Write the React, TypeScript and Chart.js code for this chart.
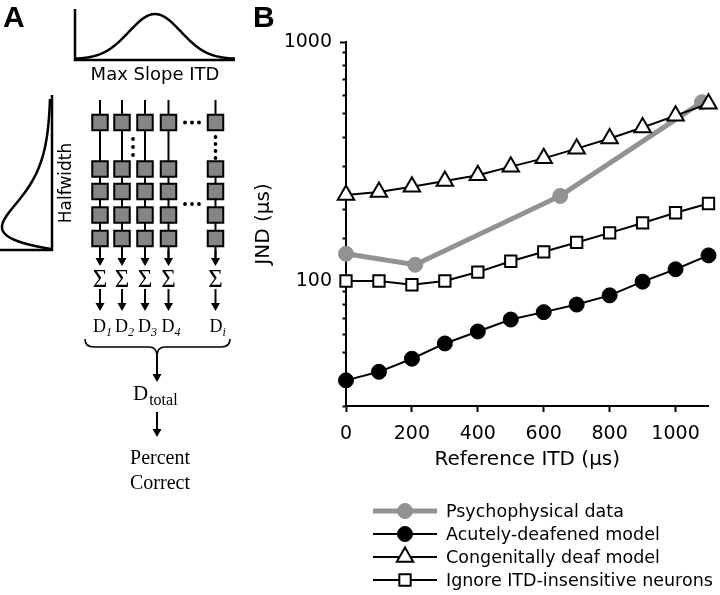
import React, { useEffect, useRef } from 'react';
import { Chart, registerables } from 'chart.js';

Chart.register(...registerables);

// ---------- data ----------
const modelITD = [0, 100, 200, 300, 400, 500, 600, 700, 800, 900, 1000, 1100];
const psychoITD = [0, 210, 650, 1080];
const psychoJND = [130, 117, 227, 560];
const acuteJND = [38.4, 41.7, 47.3, 54.8, 61.5, 69, 74.1, 79.7, 87.1, 99.4, 112, 128];
const congenitalJND = [229, 236, 248, 262, 277, 301, 326, 358, 395, 439, 492, 552];
const ignoreJND = [100, 100, 96.5, 100, 109, 121, 132.5, 145, 159, 175, 193, 211];
const seriesLabels = [
  'Psychophysical data',
  'Acutely-deafened model',
  'Congenitally deaf model',
  'Ignore ITD-insensitive neurons',
];
const yLabelledTicks = [100, 1000];
const xRange = [0, 1100];
const yRange = [30, 1000];
const xStep = 200;
const xTitle = 'Reference ITD (\u00b5s)';
const yTitle = 'JND (\u00b5s)';
const columnLabels = ['1', '2', '3', '4', 'i'];

const SANS = '"DejaVu Sans", "Liberation Sans", sans-serif';
const SERIF = '"Liberation Serif", "DejaVu Serif", serif';
const GREY = '#929292';

function drawMarker(ctx: CanvasRenderingContext2D, style: string, x: number, y: number, r: number, fill: string, stroke: string, lw: number) {
  ctx.beginPath();
  if (style === 'circle') {
    ctx.arc(x, y, r, 0, Math.PI * 2);
  } else if (style === 'triangle') {
    let rad = 0;
    ctx.moveTo(x + Math.sin(rad) * r, y - Math.cos(rad) * r);
    rad += (2 * Math.PI) / 3;
    ctx.lineTo(x + Math.sin(rad) * r, y - Math.cos(rad) * r);
    rad += (2 * Math.PI) / 3;
    ctx.lineTo(x + Math.sin(rad) * r, y - Math.cos(rad) * r);
    ctx.closePath();
  } else {
    const s = r * Math.SQRT1_2;
    ctx.rect(x - s, y - s, 2 * s, 2 * s);
  }
  ctx.fillStyle = fill;
  ctx.fill();
  ctx.lineWidth = lw;
  ctx.strokeStyle = stroke;
  ctx.stroke();
}

function arrowDown(ctx: CanvasRenderingContext2D, x: number, y1: number, tip: number, lw = 2) {
  const hh = 8;
  const hw = 4.5;
  ctx.beginPath();
  ctx.moveTo(x, y1);
  ctx.lineTo(x, tip - hh + 1);
  ctx.lineWidth = lw;
  ctx.strokeStyle = '#000';
  ctx.stroke();
  ctx.beginPath();
  ctx.moveTo(x - hw, tip - hh);
  ctx.lineTo(x + hw, tip - hh);
  ctx.lineTo(x, tip);
  ctx.closePath();
  ctx.fillStyle = '#000';
  ctx.fill();
}

function dot(ctx: CanvasRenderingContext2D, x: number, y: number) {
  ctx.beginPath();
  ctx.arc(x, y, 1.9, 0, Math.PI * 2);
  ctx.fillStyle = '#000';
  ctx.fill();
}

const panelAPlugin = {
  id: 'panelA',
  afterDraw(chart: any) {
    const ctx: CanvasRenderingContext2D = chart.ctx;
    ctx.save();
    ctx.lineCap = 'butt';
    ctx.lineJoin = 'miter';

    // panel letters
    ctx.fillStyle = '#000';
    ctx.font = 'bold 30px "Liberation Sans", Arial, sans-serif';
    ctx.textAlign = 'left';
    ctx.textBaseline = 'alphabetic';
    ctx.fillText('A', 3, 27);
    ctx.fillText('B', 253, 27);

    // Max slope ITD distribution
    ctx.strokeStyle = '#000';
    ctx.lineWidth = 2.5;
    ctx.beginPath();
    ctx.moveTo(75, 9);
    ctx.lineTo(75, 60);
    ctx.lineTo(235, 60);
    ctx.stroke();
    ctx.beginPath();
    for (let x = 75; x <= 235; x += 1) {
      const y = 59 - 45 * Math.exp(-((x - 155) * (x - 155)) / (2 * 26 * 26));
      if (x === 75) ctx.moveTo(x, y);
      else ctx.lineTo(x, y);
    }
    ctx.stroke();
    ctx.font = '18px ' + SANS;
    ctx.textAlign = 'center';
    ctx.textBaseline = 'middle';
    ctx.fillText('Max Slope ITD', 155, 75);

    // Halfwidth distribution (rotated, skewed)
    ctx.beginPath();
    ctx.moveTo(52, 95);
    ctx.lineTo(52, 250);
    ctx.lineTo(0, 250);
    ctx.stroke();
    ctx.beginPath();
    for (let u = 0; u <= 150; u += 1) {
      const d = 49 * (u / 22) * Math.exp(1 - u / 22);
      const x = 51 - d;
      const y = 249 - u;
      if (u === 0) ctx.moveTo(x, y);
      else ctx.lineTo(x, y);
    }
    ctx.stroke();
    ctx.save();
    ctx.translate(67, 183);
    ctx.rotate(-Math.PI / 2);
    ctx.font = '17px ' + SANS;
    ctx.fillText('Halfwidth', 0, 0);
    ctx.restore();

    // neuron grid
    const cols = [100, 122, 145, 168.5, 215.5];
    const rows = [122.5, 169, 191.5, 215, 238.5];
    const bs = 15.5;
    ctx.lineWidth = 2;
    cols.forEach((cx, ci) => {
      ctx.beginPath();
      if (ci < 4) {
        ctx.moveTo(cx, 100);
        ctx.lineTo(cx, 258);
      } else {
        ctx.moveTo(cx, 100);
        ctx.lineTo(cx, rows[0]);
        ctx.moveTo(cx, rows[1]);
        ctx.lineTo(cx, 258);
      }
      ctx.strokeStyle = '#000';
      ctx.stroke();
      arrowDown(ctx, cx, 250, 266);
      rows.forEach((cy) => {
        ctx.beginPath();
        ctx.rect(cx - bs / 2, cy - bs / 2, bs, bs);
        ctx.fillStyle = '#858585';
        ctx.fill();
        ctx.strokeStyle = '#000';
        ctx.lineWidth = 2;
        ctx.stroke();
      });
    });
    // dots
    [139, 147, 155].forEach((y) => dot(ctx, 133, y));
    [137, 144, 151, 158].forEach((y) => dot(ctx, 215.5, y));
    [185, 192, 199].forEach((x) => dot(ctx, x, 122.5));
    [185, 192, 199].forEach((x) => dot(ctx, x, 204));

    // sums and D labels
    cols.forEach((cx, ci) => {
      ctx.fillStyle = '#000';
      ctx.font = '25px ' + SERIF;
      ctx.textAlign = 'center';
      ctx.textBaseline = 'alphabetic';
      ctx.fillText('\u03a3', cx, 287);
      arrowDown(ctx, cx, 289, 311);
      ctx.textAlign = 'left';
      ctx.textBaseline = 'alphabetic';
      ctx.font = '18px ' + SERIF;
      const left = ci < 4 ? cx - 7 : cx - 6;
      ctx.fillText('D', left, 332);
      const w = ctx.measureText('D').width;
      ctx.font = 'italic 12px ' + SERIF;
      ctx.fillText(columnLabels[ci], left + w, 336);
    });

    // brace
    ctx.beginPath();
    ctx.lineWidth = 1.6;
    ctx.strokeStyle = '#000';
    ctx.moveTo(85, 339);
    ctx.quadraticCurveTo(85, 347, 94, 347);
    ctx.lineTo(149, 347);
    ctx.quadraticCurveTo(157, 347, 157, 356);
    ctx.quadraticCurveTo(157, 347, 165, 347);
    ctx.lineTo(221, 347);
    ctx.quadraticCurveTo(230, 347, 230, 339);
    ctx.stroke();
    arrowDown(ctx, 157, 356, 382);

    ctx.fillStyle = '#000';
    ctx.textAlign = 'left';
    ctx.textBaseline = 'alphabetic';
    ctx.font = '21px ' + SERIF;
    ctx.fillText('D', 133, 400);
    const dw = ctx.measureText('D').width;
    ctx.font = '16px ' + SERIF;
    ctx.fillText('total', 133 + dw + 1, 405);
    arrowDown(ctx, 157, 412, 437);
    ctx.font = '20px ' + SERIF;
    ctx.textAlign = 'center';
    ctx.fillText('Percent', 160, 464);
    ctx.fillText('Correct', 160, 489);

    ctx.restore();
  },
};

const legendPlugin = {
  id: 'customLegend',
  afterDraw(chart: any) {
    const ctx: CanvasRenderingContext2D = chart.ctx;
    ctx.save();
    const x0 = 373;
    const x1 = 437;
    const rowY = [511, 534, 557, 580];
    chart.data.datasets.forEach((ds: any, i: number) => {
      const y = rowY[i];
      ctx.beginPath();
      ctx.moveTo(x0, y);
      ctx.lineTo(x1, y);
      ctx.lineWidth = ds.borderWidth;
      ctx.strokeStyle = ds.borderColor;
      ctx.stroke();
      drawMarker(ctx, ds.pointStyle, (x0 + x1) / 2, y, ds.pointRadius, ds.pointBackgroundColor, ds.pointBorderColor, ds.pointBorderWidth);
      ctx.fillStyle = '#000';
      ctx.font = '17.5px ' + SANS;
      ctx.textAlign = 'left';
      ctx.textBaseline = 'middle';
      ctx.fillText(ds.label, 446, y + 1);
    });
    ctx.restore();
  },
};

const isMajor = (v: number) => yLabelledTicks.includes(Math.round(v));

export default function App() {
  const canvasRef = useRef<HTMLCanvasElement | null>(null);

  useEffect(() => {
    if (!canvasRef.current) return;
    Chart.defaults.font.family = SANS;
    Chart.defaults.color = '#000';
    const toPts = (xs: number[], ys: number[]) => xs.map((x, i) => ({ x, y: ys[i] }));
    const chart = new Chart(canvasRef.current, {
      type: 'line',
      data: {
        datasets: [
          {
            label: seriesLabels[0],
            data: toPts(psychoITD, psychoJND),
            borderColor: GREY,
            backgroundColor: GREY,
            borderWidth: 5,
            pointStyle: 'circle',
            pointRadius: 7.5,
            pointBackgroundColor: GREY,
            pointBorderColor: GREY,
            pointBorderWidth: 1,
            order: 1,
            clip: false,
          },
          {
            label: seriesLabels[1],
            data: toPts(modelITD, acuteJND),
            borderColor: '#000',
            backgroundColor: '#000',
            borderWidth: 2,
            pointStyle: 'circle',
            pointRadius: 7.5,
            pointBackgroundColor: '#000',
            pointBorderColor: '#000',
            pointBorderWidth: 1,
            order: 0,
            clip: false,
          },
          {
            label: seriesLabels[2],
            data: toPts(modelITD, congenitalJND),
            borderColor: '#000',
            backgroundColor: '#fff',
            borderWidth: 2,
            pointStyle: 'triangle',
            pointRadius: 9.5,
            pointBackgroundColor: '#fff',
            pointBorderColor: '#000',
            pointBorderWidth: 2,
            order: 0,
            clip: false,
          },
          {
            label: seriesLabels[3],
            data: toPts(modelITD, ignoreJND),
            borderColor: '#000',
            backgroundColor: '#fff',
            borderWidth: 2,
            pointStyle: 'rect',
            pointRadius: 8,
            pointBackgroundColor: '#fff',
            pointBorderColor: '#000',
            pointBorderWidth: 2,
            order: 0,
            clip: false,
          },
        ],
      },
      options: {
        animation: false,
        responsive: false,
        maintainAspectRatio: false,
        devicePixelRatio: 1,
        layout: { padding: { left: 248, right: 10, top: 42, bottom: 119 } },
        elements: { line: { tension: 0 } },
        plugins: { legend: { display: false }, tooltip: { enabled: false } },
        events: [],
        scales: {
          x: {
            type: 'linear',
            min: xRange[0],
            max: xRange[1],
            afterFit: (s: any) => {
              s.height = 70;
            },
            ticks: {
              stepSize: xStep,
              includeBounds: false,
              autoSkip: false,
              maxRotation: 0,
              padding: 11,
              color: '#000',
              font: { size: 19, family: SANS },
              callback: (v: any) => String(Math.round(Number(v))),
            },
            grid: {
              display: true,
              drawOnChartArea: false,
              drawTicks: true,
              tickLength: 6,
              tickWidth: 2,
              tickColor: '#000',
              color: '#000',
            },
            border: { display: true, color: '#000', width: 2 },
            title: {
              display: true,
              text: xTitle,
              color: '#000',
              font: { size: 20, family: SANS },
              padding: { top: 4, bottom: 4 },
            },
          },
          y: {
            type: 'logarithmic',
            min: yRange[0],
            max: yRange[1],
            afterFit: (s: any) => {
              s.width = 98;
            },
            ticks: {
              autoSkip: false,
              padding: 8,
              color: '#000',
              font: { size: 19, family: SANS },
              callback: (v: any) => (isMajor(Number(v)) ? String(Math.round(Number(v))) : ''),
            },
            grid: {
              display: true,
              drawOnChartArea: false,
              drawTicks: true,
              tickLength: 6,
              tickWidth: 2,
              tickColor: '#000',
              color: '#000',
              tickBorderDash: (c: any) => (c.tick && isMajor(c.tick.value) ? [] : [0, 2.5, 20, 0]),
            },
            border: { display: true, color: '#000', width: 2 },
            title: {
              display: true,
              text: yTitle,
              color: '#000',
              font: { size: 20, family: SANS },
              padding: { top: 4, bottom: 4 },
            },
          },
        },
      },
      plugins: [panelAPlugin, legendPlugin],
    } as any);
    return () => chart.destroy();
  }, []);

  return (
    <div style={{ position: 'fixed', left: 0, top: 0, width: 720, height: 595, background: '#fff' }}>
      <canvas ref={canvasRef} width={720} height={595} style={{ width: 720, height: 595, display: 'block' }} />
    </div>
  );
}
